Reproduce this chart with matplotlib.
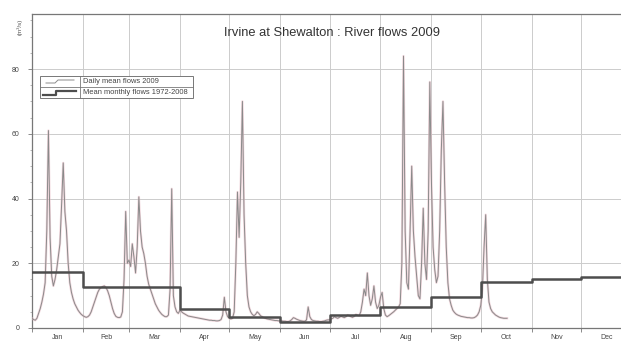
import numpy as np
import matplotlib
matplotlib.use("Agg")
import matplotlib.pyplot as plt
from matplotlib.patches import Rectangle
from matplotlib.lines import Line2D
import matplotlib.patheffects as pe

plt.rcParams['font.family'] = ['Liberation Sans', 'DejaVu Sans']

title = "Irvine at Shewalton : River flows 2009"
series_daily = "Daily mean flows 2009"
series_mean = "Mean monthly flows 1972-2008"
y_unit = "(m³/s)"

months = ["Jan", "Feb", "Mar", "Apr", "May", "Jun",
          "Jul", "Aug", "Sep", "Oct", "Nov", "Dec"]
month_start = [0, 31, 59, 90, 120, 151, 181, 212, 243, 273, 304, 334, 365]

# daily mean flows 2009 (m3/s), one list per month
jan = [3.0, 2.6, 2.4, 3.0, 4.5, 6.0, 8.0, 10.5, 14, 30, 61, 28, 16, 13, 15, 18,
       22, 26, 38, 51, 36, 30, 20, 14, 11, 9, 7.5, 6.5, 5.5, 4.8, 4.2]
feb = [3.8, 3.5, 3.3, 3.5, 4.0, 5.0, 6.5, 8.0, 9.5, 11, 12, 12.5, 12.8, 13,
       12.5, 11.5, 10, 8, 6, 4.5, 3.6, 3.3, 3.2, 3.4, 5, 15, 36, 20]
mar = [21, 19, 26, 22, 17, 25, 40.5, 30, 25, 23, 20, 16, 13.5, 12, 10.5, 9,
       7.5, 6.5, 5.5, 4.8, 4.2, 3.8, 3.5, 3.5, 4, 12, 43, 10, 6.5, 5, 4.5]
apr = [5.5, 5.0, 4.6, 4.3, 4.0, 3.7, 3.6, 3.5, 3.4, 3.3, 3.2, 3.1, 3.0, 2.9,
       2.8, 2.7, 2.6, 2.5, 2.4, 2.4, 2.3, 2.3, 2.2, 2.2, 2.3, 2.6, 4, 9.5, 5, 3.5]
may = [3, 2.8, 3, 5, 20, 42, 28, 45, 70, 35, 20, 10, 6.5, 5, 4.2, 3.8, 4.2, 5,
       4.5, 3.8, 3.5, 3.2, 3.0, 2.8, 2.7, 2.6, 2.5, 2.4, 2.3, 2.3, 2.2]
jun = [2.2, 2.2, 2.1, 2.1, 2.0, 2.0, 2.2, 2.6, 3.2, 3.0, 2.7, 2.5, 2.3, 2.2,
       2.1, 2.1, 2.5, 6.5, 3.5, 2.6, 2.3, 2.2, 2.1, 2.1, 2.0, 2.0, 2.1, 2.2,
       2.4, 2.5]
jul = [2.5, 2.8, 3.0, 3.5, 3.2, 3.0, 3.3, 3.6, 3.4, 3.2, 3.5, 4.0, 3.8, 3.5,
       3.3, 3.6, 4.2, 4.0, 3.8, 5.0, 8, 12, 10, 17, 10, 7, 9, 13, 8, 6, 7]
aug = [9.5, 11, 6, 4, 3.5, 3.8, 4.2, 4.6, 5, 5.5, 6, 6.5, 7.5, 20, 84, 30, 14,
       12, 30, 50, 30, 22, 16, 10, 9, 20, 37, 20, 15, 30, 76]
sep = [45, 25, 18, 14, 16, 30, 55, 70, 45, 25, 14, 9, 7, 5.5, 4.8, 4.3, 4,
       3.8, 3.6, 3.5, 3.4, 3.3, 3.2, 3.2, 3.1, 3.1, 3.2, 3.5, 4, 5]
octo = [7, 12, 25, 35, 15, 8, 6, 5, 4.5, 4, 3.7, 3.4, 3.2, 3.1, 3, 3, 3]

# long-term mean monthly flows (m3/s)
mean_monthly = [17.2, 12.7, 12.7, 6.0, 3.4, 1.9, 4.0, 6.5, 9.6, 14.2, 15.1, 15.8]

yticks = [0, 20, 40, 60, 80]

daily = np.array(jan + feb + mar + apr + may + jun + jul + aug + sep + octo)
days = np.arange(len(daily))

W, H = 621, 343
fig = plt.figure(figsize=(W / 100, H / 100), dpi=100)
fig.patch.set_facecolor("white")

x0, x1 = 32, 632
y_top, y_bot = 14, 328
ax = fig.add_axes([x0 / W, 1 - y_bot / H, (x1 - x0) / W, (y_bot - y_top) / H])
ax.set_xlim(0, 365)
ax.set_ylim(0, 97)

# grid
for m in month_start[1:-1]:
    ax.axvline(m, color="#cccccc", lw=0.7, zorder=0)
for v in yticks[1:]:
    ax.axhline(v, color="#cccccc", lw=0.7, zorder=0)

# daily flows
ax.plot(days, daily, color="#8a8a8a", lw=0.7, zorder=3,
        path_effects=[pe.Stroke(linewidth=1.7, foreground="#e7b9c3", alpha=0.55),
                      pe.Normal()])

# mean monthly step line
step_y = mean_monthly + [mean_monthly[-1]]
ax.step(month_start, step_y, where="post", color="#4d4d4d", lw=1.8, zorder=4)

# frame
for side in ["top", "bottom", "left"]:
    ax.spines[side].set_color("#777777")
    ax.spines[side].set_linewidth(0.9)
ax.spines["right"].set_visible(False)

ax.set_yticks(yticks)
ax.set_yticklabels([str(v) for v in yticks], fontsize=5, color="#444444")
ax.set_yticks(np.arange(0, 97, 5), minor=True)
ax.tick_params(axis="y", which="major", length=3, width=0.6, color="#777777", pad=6)
ax.tick_params(axis="y", which="minor", length=1.5, width=0.5, color="#999999")

ax.set_xticks(month_start[:-1])
ax.set_xticklabels([])
ax.tick_params(axis="x", which="major", length=3, width=0.6, color="#777777")
mids = [(month_start[i] + month_start[i + 1]) / 2 for i in range(12)]
ax.set_xticks(mids, minor=True)
ax.set_xticklabels(months, minor=True, fontsize=5, color="#444444")
ax.tick_params(axis="x", which="minor", length=0, pad=4.5)

fig.text(20 / W, 1 - 27 / H, y_unit, rotation=90, fontsize=4.5, color="#555555",
         ha="center", va="center")

fig.text(332 / W, 1 - 33 / H, title, fontsize=9.3, color="#333333",
         ha="center", va="center")

# legend table
lx0, lx1, ldiv = 40, 193, 80
ly0, ly1, lmid = 76, 98, 87
def fx(px):
    return px / W
def fy(py):
    return 1 - py / H
fig.patches.append(Rectangle((fx(lx0), fy(ly1)), fx(lx1) - fx(lx0), fy(ly0) - fy(ly1),
                             transform=fig.transFigure, facecolor="white",
                             edgecolor="#777777", lw=0.7, zorder=5))
fig.lines.append(Line2D([fx(ldiv), fx(ldiv)], [fy(ly0), fy(ly1)],
                        transform=fig.transFigure, color="#777777", lw=0.6, zorder=6))
fig.lines.append(Line2D([fx(lx0), fx(lx1)], [fy(lmid), fy(lmid)],
                        transform=fig.transFigure, color="#777777", lw=0.6, zorder=6))
fig.lines.append(Line2D([fx(46), fx(55), fx(58), fx(74)],
                        [fy(83), fy(83), fy(80), fy(80)],
                        transform=fig.transFigure, color="#8a8a8a", lw=0.7, zorder=6))
fig.lines.append(Line2D([fx(43), fx(56), fx(56), fx(76)],
                        [fy(95), fy(95), fy(91), fy(91)],
                        transform=fig.transFigure, color="#4d4d4d", lw=1.6, zorder=6))
fig.text(fx(83), fy(81.5), series_daily, fontsize=5.4, color="#444444",
         ha="left", va="center", zorder=7)
fig.text(fx(83), fy(92.5), series_mean, fontsize=5.4, color="#444444",
         ha="left", va="center", zorder=7)

fig.savefig("out.png", dpi=100, facecolor="white")
